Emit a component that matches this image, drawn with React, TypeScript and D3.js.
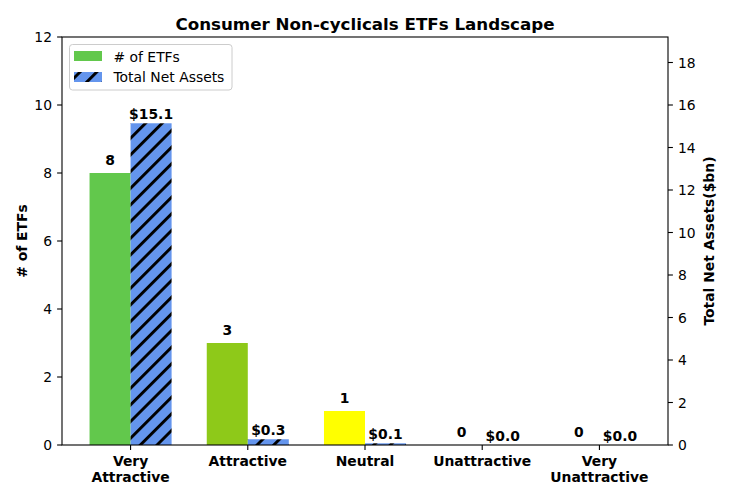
import React from "react";
import * as d3 from "d3";

const categories = ["Very\nAttractive", "Attractive", "Neutral", "Unattractive", "Very\nUnattractive"];
const etfCounts = [8, 3, 1, 0, 0];
const netAssets = [15.14, 0.27, 0.08, 0.0, 0.0];
const netAssetLabels = ["$15.1", "$0.3", "$0.1", "$0.0", "$0.0"];
const barColors = ["#62c84c", "#8ec919", "#ffff00", "#ff9900", "#ff0000"];
const leftTicks = [0, 2, 4, 6, 8, 10, 12];
const rightTicks = [0, 2, 4, 6, 8, 10, 12, 14, 16, 18];

const W = 730;
const H = 500;
const L = 62, R = 668, T = 37, B = 445;
const FONT = "DejaVu Sans, sans-serif";
const BW = 0.35;

export default function App() {
  const x = d3.scaleLinear().domain([-0.585, 4.585]).range([L, R]);
  const yL = d3.scaleLinear().domain([0, 12]).range([B, T]);
  const yR = d3.scaleLinear().domain([0, 19.2]).range([B, T]);
  const idx = d3.range(categories.length);

  return (
    <svg width={W} height={H} style={{ position: "absolute", left: 0, top: 0, background: "#fff" }} fontFamily={FONT}>
      <defs>
        <pattern id="hatch" patternUnits="userSpaceOnUse" width={11.785} height={11.785} patternTransform="rotate(45)">
          <rect width={11.785} height={11.785} fill="#6495ed" />
          <rect x={0} y={0} width={2.9} height={11.785} fill="#000" />
        </pattern>
      </defs>
      <rect width={W} height={H} fill="#fff" />
      <text x={(L + R) / 2} y={29.5} textAnchor="middle" fontSize={16.7} fontWeight="bold">
        Consumer Non-cyclicals ETFs Landscape
      </text>

      {/* bars */}
      {idx.map((i) => (
        <g key={"b" + i}>
          <rect x={x(i - BW)} y={yL(etfCounts[i])} width={x(i) - x(i - BW)} height={B - yL(etfCounts[i])} fill={barColors[i]} />
          <rect x={x(i)} y={yR(netAssets[i])} width={x(i + BW) - x(i)} height={B - yR(netAssets[i])} fill="url(#hatch)" />
          <text x={x(i - BW / 2)} y={yL(etfCounts[i]) - 8} textAnchor="middle" fontSize={13.9} fontWeight="bold">
            {etfCounts[i]}
          </text>
          <text x={x(i + BW / 2)} y={yR(netAssets[i]) - 4.5} textAnchor="middle" fontSize={13.9} fontWeight="bold">
            {netAssetLabels[i]}
          </text>
        </g>
      ))}

      {/* frame */}
      <rect x={L} y={T} width={R - L} height={B - T} fill="none" stroke="#000" strokeWidth={1.1} />

      {/* left axis */}
      {leftTicks.map((t) => (
        <g key={"l" + t}>
          <line x1={L - 4.9} x2={L} y1={yL(t)} y2={yL(t)} stroke="#000" strokeWidth={1.1} />
          <text x={52} y={yL(t)} dy="0.36em" textAnchor="end" fontSize={13.9}>{t}</text>
        </g>
      ))}
      {/* right axis */}
      {rightTicks.map((t) => (
        <g key={"r" + t}>
          <line x1={R} x2={R + 4.9} y1={yR(t)} y2={yR(t)} stroke="#000" strokeWidth={1.1} />
          <text x={678} y={yR(t)} dy="0.36em" textAnchor="start" fontSize={13.9}>{t}</text>
        </g>
      ))}
      {/* x axis */}
      {idx.map((i) => (
        <g key={"x" + i}>
          <line x1={x(i)} x2={x(i)} y1={B} y2={B + 4.9} stroke="#000" strokeWidth={1.1} />
          {categories[i].split("\n").map((ln, j) => (
            <text key={j} x={x(i)} y={466 + j * 16} textAnchor="middle" fontSize={13.9} fontWeight="bold">{ln}</text>
          ))}
        </g>
      ))}

      <text transform={`translate(27,${(T + B) / 2}) rotate(-90)`} textAnchor="middle" fontSize={13.9} fontWeight="bold">
        # of ETFs
      </text>
      <text transform={`translate(714,${(T + B) / 2}) rotate(-90)`} textAnchor="middle" fontSize={13.9} fontWeight="bold">
        Total Net Assets($bn)
      </text>

      {/* legend */}
      <g>
        <rect x={69.5} y={44.5} width={162.5} height={45.5} rx={3} fill="#fff" fillOpacity={0.8} stroke="#cccccc" strokeWidth={1} />
        <rect x={74} y={51} width={28} height={10} fill={barColors[0]} />
        <text x={113.5} y={56.5} dy="0.36em" fontSize={13.9}># of ETFs</text>
        <rect x={74} y={72} width={28} height={10} fill="url(#hatch)" />
        <text x={113.5} y={77} dy="0.36em" fontSize={13.9}>Total Net Assets</text>
      </g>
    </svg>
  );
}
